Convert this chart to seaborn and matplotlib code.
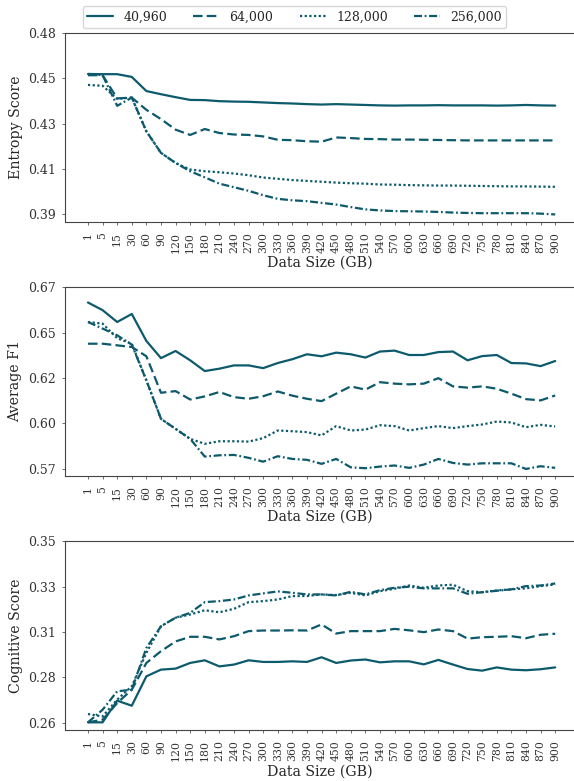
import numpy as np
import pandas as pd
import seaborn as sns
import matplotlib.pyplot as plt
from matplotlib.ticker import FormatStrFormatter

sizes = ["1", "5", "15", "30", "60", "90", "120", "150", "180", "210", "240",
         "270", "300", "330", "360", "390", "420", "450", "480", "510", "540",
         "570", "600", "630", "660", "690", "720", "750", "780", "810", "840",
         "870", "900"]
series = ["40,960", "64,000", "128,000", "256,000"]

entropy_40960 = [0.4561, 0.4560, 0.4560, 0.4547, 0.4480, 0.4465, 0.4451, 0.4438, 0.4437,
                 0.4432, 0.4430, 0.4429, 0.4426, 0.4423, 0.4421, 0.4418, 0.4416, 0.4418,
                 0.4416, 0.4414, 0.4412, 0.4411, 0.4412, 0.4412, 0.4413, 0.4412, 0.4412,
                 0.4412, 0.4411, 0.4412, 0.4414, 0.4412, 0.4411]
entropy_64000 = [0.4555, 0.4555, 0.4445, 0.4449, 0.4391, 0.4347, 0.4297, 0.4272, 0.4300,
                 0.4281, 0.4274, 0.4272, 0.4265, 0.4249, 0.4247, 0.4242, 0.4240, 0.4260,
                 0.4257, 0.4253, 0.4252, 0.4250, 0.4250, 0.4249, 0.4248, 0.4247, 0.4246,
                 0.4246, 0.4246, 0.4246, 0.4246, 0.4246, 0.4246]
entropy_128000 = [0.4509, 0.4505, 0.4443, 0.4449, 0.4289, 0.4187, 0.4139, 0.4108, 0.4100,
                  0.4095, 0.4089, 0.4081, 0.4070, 0.4064, 0.4058, 0.4054, 0.4050, 0.4046,
                  0.4043, 0.4041, 0.4037, 0.4036, 0.4034, 0.4033, 0.4032, 0.4032, 0.4031,
                  0.4030, 0.4029, 0.4028, 0.4028, 0.4027, 0.4026]
entropy_256000 = [0.4561, 0.4555, 0.4410, 0.4449, 0.4289, 0.4187, 0.4139, 0.4100, 0.4071,
                  0.4041, 0.4024, 0.4007, 0.3986, 0.3969, 0.3962, 0.3958, 0.3950, 0.3942,
                  0.3930, 0.3919, 0.3914, 0.3911, 0.3910, 0.3909, 0.3907, 0.3904, 0.3902,
                  0.3901, 0.3901, 0.3901, 0.3901, 0.3899, 0.3895]

f1_40960 = [0.6616, 0.6574, 0.6509, 0.6553, 0.6405, 0.6311, 0.6350, 0.6299, 0.6240,
            0.6253, 0.6271, 0.6271, 0.6256, 0.6284, 0.6305, 0.6332, 0.6321, 0.6341,
            0.6332, 0.6314, 0.6347, 0.6352, 0.6328, 0.6328, 0.6344, 0.6347, 0.6299,
            0.6322, 0.6328, 0.6284, 0.6282, 0.6267, 0.6295]
f1_64000 = [0.6390, 0.6390, 0.6381, 0.6372, 0.6321, 0.6121, 0.6130, 0.6084, 0.6101,
            0.6125, 0.6097, 0.6088, 0.6102, 0.6128, 0.6105, 0.6088, 0.6075, 0.6116,
            0.6156, 0.6138, 0.6179, 0.6171, 0.6167, 0.6171, 0.6201, 0.6156, 0.6149,
            0.6156, 0.6143, 0.6116, 0.6086, 0.6079, 0.6106]
f1_128000 = [0.6509, 0.6500, 0.6420, 0.6390, 0.6189, 0.5978, 0.5923, 0.5868, 0.5841,
             0.5855, 0.5855, 0.5853, 0.5872, 0.5914, 0.5910, 0.5905, 0.5887, 0.5938,
             0.5914, 0.5919, 0.5943, 0.5938, 0.5914, 0.5927, 0.5938, 0.5927, 0.5938,
             0.5947, 0.5963, 0.5958, 0.5932, 0.5945, 0.5936]
f1_256000 = [0.6509, 0.6473, 0.6436, 0.6385, 0.6189, 0.5978, 0.5923, 0.5868, 0.5771,
             0.5778, 0.5780, 0.5764, 0.5743, 0.5773, 0.5758, 0.5753, 0.5731, 0.5758,
             0.5712, 0.5707, 0.5716, 0.5722, 0.5709, 0.5727, 0.5758, 0.5736, 0.5727,
             0.5734, 0.5734, 0.5734, 0.5703, 0.5718, 0.5709]

cog_40960 = [0.2607, 0.2607, 0.2714, 0.2689, 0.2834, 0.2867, 0.2872, 0.2900, 0.2913,
             0.2883, 0.2892, 0.2913, 0.2905, 0.2905, 0.2908, 0.2905, 0.2928, 0.2900,
             0.2912, 0.2917, 0.2903, 0.2908, 0.2908, 0.2893, 0.2915, 0.2892, 0.2870,
             0.2862, 0.2878, 0.2867, 0.2864, 0.2869, 0.2878]
cog_64000 = [0.2607, 0.2620, 0.2702, 0.2768, 0.2900, 0.2958, 0.3006, 0.3029, 0.3029,
             0.3016, 0.3032, 0.3057, 0.3060, 0.3060, 0.3061, 0.3060, 0.3090, 0.3045,
             0.3057, 0.3057, 0.3057, 0.3068, 0.3061, 0.3052, 0.3065, 0.3057, 0.3020,
             0.3027, 0.3029, 0.3032, 0.3022, 0.3039, 0.3044]
cog_128000 = [0.2648, 0.2636, 0.2719, 0.2785, 0.2950, 0.3081, 0.3123, 0.3139, 0.3160,
              0.3150, 0.3167, 0.3200, 0.3205, 0.3213, 0.3230, 0.3230, 0.3238, 0.3235,
              0.3246, 0.3233, 0.3254, 0.3266, 0.3282, 0.3271, 0.3282, 0.3286, 0.3254,
              0.3249, 0.3258, 0.3263, 0.3268, 0.3279, 0.3287]
cog_256000 = [0.2607, 0.2669, 0.2760, 0.2768, 0.2974, 0.3081, 0.3123, 0.3147, 0.3200,
              0.3205, 0.3213, 0.3233, 0.3243, 0.3253, 0.3246, 0.3238, 0.3238, 0.3233,
              0.3251, 0.3238, 0.3259, 0.3271, 0.3276, 0.3268, 0.3268, 0.3268, 0.3241,
              0.3249, 0.3256, 0.3263, 0.3279, 0.3282, 0.3292]

panels = [
    ("Entropy Score", [entropy_40960, entropy_64000, entropy_128000, entropy_256000], (0.3895, 0.4755)),
    ("Average F1", [f1_40960, f1_64000, f1_128000, f1_256000], (0.5705, 0.67)),
    ("Cognitive Score", [cog_40960, cog_64000, cog_128000, cog_256000], (0.2605, 0.35)),
]

teal = "#0d5a6c"
palette = {s: teal for s in series}
dashes = {"40,960": "", "64,000": (4.3, 1.9), "128,000": (1, 1.1), "256,000": (3.6, 1.2, 0.8, 1.2)}

sns.set_theme(style="ticks")
plt.rcParams["font.family"] = "DejaVu Serif"
plt.rcParams["axes.edgecolor"] = "#444444"
plt.rcParams["axes.linewidth"] = 0.8
plt.rcParams["xtick.color"] = "#555555"
plt.rcParams["ytick.color"] = "#555555"
plt.rcParams["xtick.labelcolor"] = "#333333"
plt.rcParams["ytick.labelcolor"] = "#333333"

fig, axes = plt.subplots(3, 1, figsize=(5.74, 7.81), dpi=100)
fig.subplots_adjust(left=0.1132, right=1.0, top=0.9577, bottom=0.0653, hspace=0.347)

for ax, (ylabel, vals, (lo, hi)) in zip(axes, panels):
    rows = []
    for name, v in zip(series, vals):
        for s, y in zip(sizes, v):
            rows.append({"size": s, "value": y, "series": name})
    df = pd.DataFrame(rows)
    sns.lineplot(data=df, x="size", y="value", hue="series", style="series",
                 palette=palette, dashes=dashes, linewidth=1.6, ax=ax, sort=False)
    step = (hi - lo) / 4
    ax.set_ylim(lo - 0.16 * step, hi)
    ax.set_yticks(np.linspace(lo, hi, 5))
    ax.yaxis.set_major_formatter(FormatStrFormatter("%.2f"))
    ax.set_xlim(-1.575, 33.29)
    ax.set_xticks(range(len(sizes)))
    ax.set_xticklabels(sizes, rotation=90, fontsize=7.8)
    ax.tick_params(axis="y", labelsize=9, length=2.5, width=0.6, pad=4)
    ax.tick_params(axis="x", length=2.5, width=0.6, pad=5)
    ax.set_ylabel(ylabel, fontsize=10.2, labelpad=4)
    ax.set_xlabel("Data Size (GB)", fontsize=10.2, labelpad=2)
    ax.spines["right"].set_visible(False)
    ax.get_legend().remove()

handles, labels = axes[0].get_legend_handles_labels()
fig.legend(handles, labels, loc="upper center", bbox_to_anchor=(0.513, 1.0), ncol=4,
           fontsize=9, frameon=True, columnspacing=2.1, handlelength=2.1,
           borderpad=0.35, fancybox=True, edgecolor="#cccccc")

fig.savefig("out.png", dpi=100)
